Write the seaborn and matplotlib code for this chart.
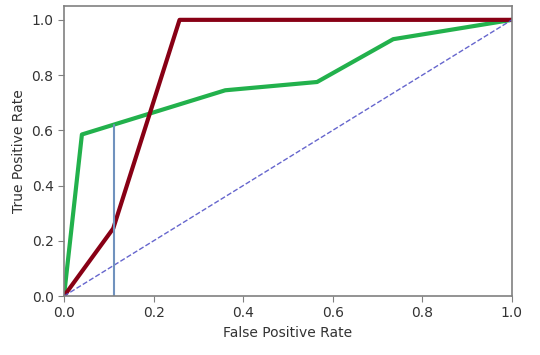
import numpy as np
import pandas as pd
import seaborn as sns
import matplotlib
matplotlib.use("Agg")
import matplotlib.pyplot as plt

# ROC points
fpr_green = [0.0, 0.04, 0.11, 0.36, 0.565, 0.735, 1.0]
tpr_green = [0.0, 0.585, 0.62, 0.745, 0.775, 0.93, 1.0]
fpr_red = [0.0, 0.11, 0.258, 1.0]
tpr_red = [0.0, 0.245, 1.0, 1.0]
chance = [0.0, 1.0]
cutoff_x = [0.111, 0.111]
cutoff_y = [0.0, 0.62]

sns.set_style("ticks")
plt.rcParams['font.family'] = ['DejaVu Sans']

fig = plt.figure(figsize=(5.4, 3.55), dpi=100)
ax = fig.add_axes([0.1185, 0.166, 0.8295, 0.817])

green = pd.DataFrame({"fpr": fpr_green, "tpr": tpr_green})
red = pd.DataFrame({"fpr": fpr_red, "tpr": tpr_red})

sns.lineplot(data=green, x="fpr", y="tpr", color="#22b14c", lw=3, sort=False, ax=ax)
sns.lineplot(data=red, x="fpr", y="tpr", color="#880015", lw=3, sort=False, ax=ax)
ax.plot(chance, chance, color="#5555c8", lw=1, ls="--", alpha=0.9)
ax.plot(cutoff_x, cutoff_y, color="#7092be", lw=1.5)

ax.set_xlim(0, 1)
ax.set_ylim(0, 1.05)
ax.set_xticks([0.0, 0.2, 0.4, 0.6, 0.8, 1.0])
ax.set_yticks([0.0, 0.2, 0.4, 0.6, 0.8, 1.0])
ax.set_xlabel("False Positive Rate", color="#333333", fontsize=10)
ax.set_ylabel("True Positive Rate", color="#333333", fontsize=10)
for s in ax.spines.values():
    s.set_color("#808080")
    s.set_linewidth(1.2)
ax.tick_params(colors="#808080", labelcolor="#333333", labelsize=10, length=4)

fig.savefig("out.png", dpi=100)
